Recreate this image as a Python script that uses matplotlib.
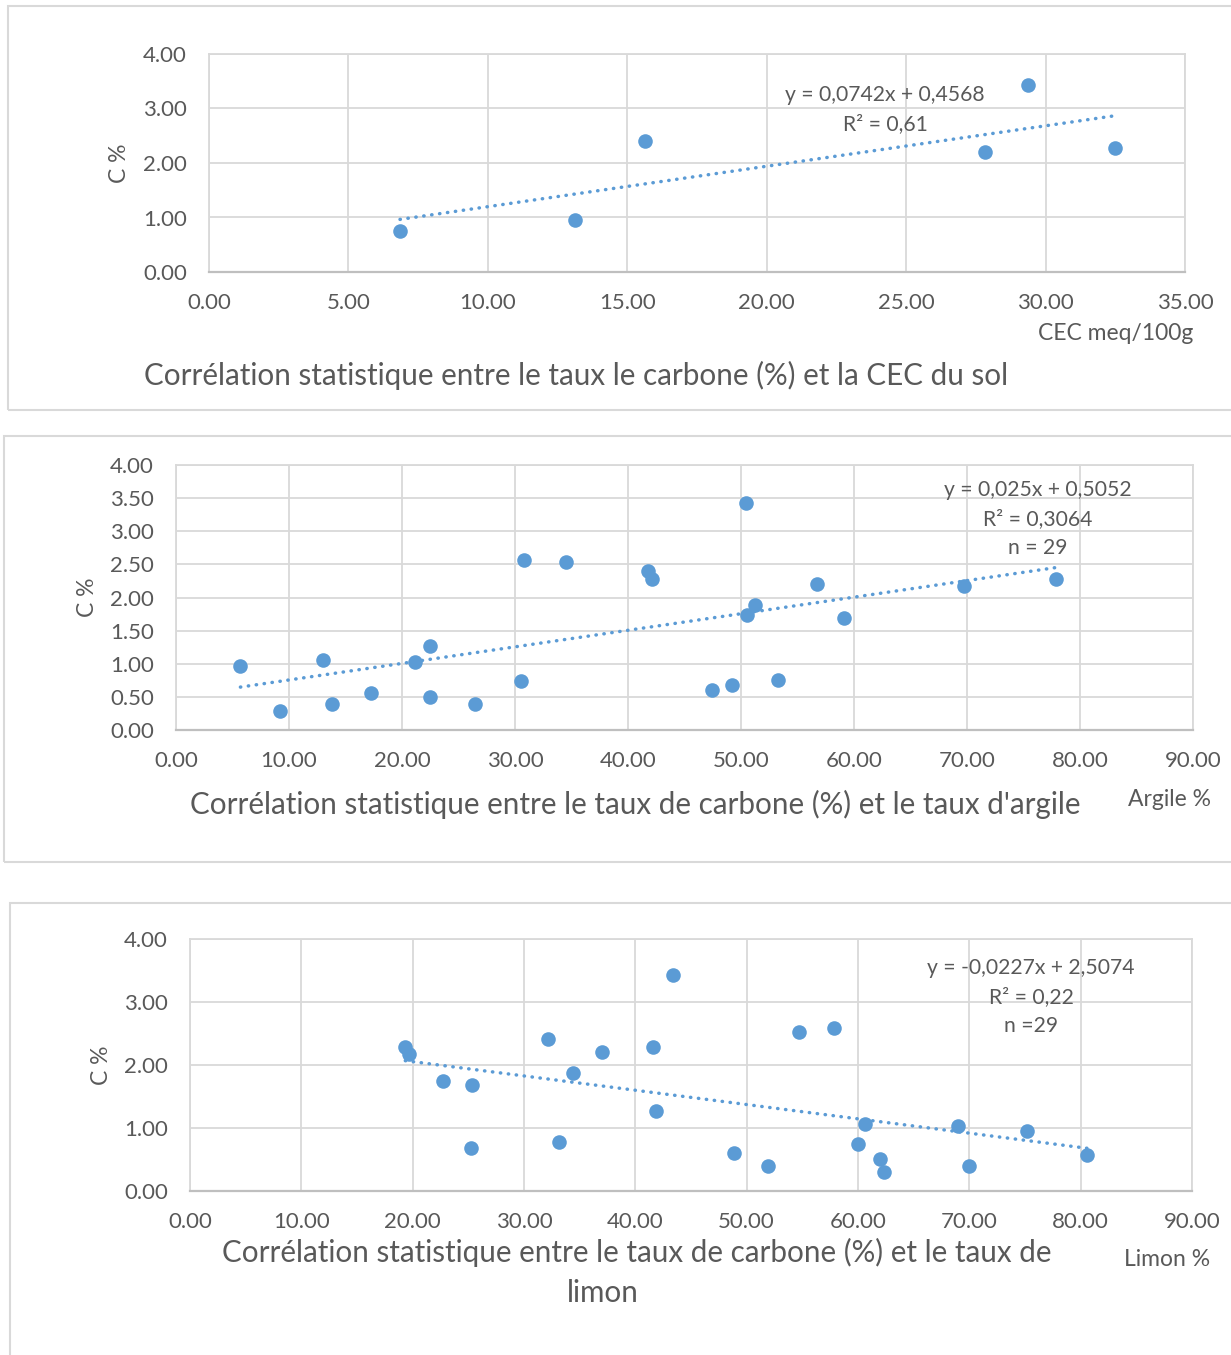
import matplotlib
matplotlib.use("Agg")
import matplotlib.pyplot as plt
from matplotlib.patches import Rectangle
import numpy as np

plt.rcParams['font.family'] = ['Lato', 'DejaVu Sans']

# ---------------- data ----------------
cec_x = [6.85, 13.12, 15.63, 27.83, 29.37, 32.49]
cec_c = [0.75, 0.95, 2.40, 2.20, 3.43, 2.28]
cec_slope, cec_icpt = 0.0742, 0.4568
cec_eq = ["y = 0,0742x + 0,4568", "R² = 0,61"]

arg_x = [5.70, 9.17, 13.03, 13.82, 17.29, 21.12, 22.44, 22.44, 26.50, 30.50,
         30.82, 34.48, 41.79, 42.14, 47.41, 49.24, 50.43, 50.56, 51.23, 53.27,
         56.69, 59.10, 69.73, 77.92]
arg_c = [0.96, 0.29, 1.05, 0.40, 0.56, 1.03, 1.27, 0.50, 0.40, 0.74,
         2.57, 2.53, 2.40, 2.28, 0.60, 0.68, 3.42, 1.74, 1.88, 0.76,
         2.20, 1.69, 2.17, 2.28]
arg_slope, arg_icpt = 0.025, 0.5052
arg_eq = ["y = 0,025x + 0,5052", "R² = 0,3064", "n = 29"]

lim_x = [19.34, 19.69, 22.75, 25.31, 25.22, 32.12, 33.17, 34.39, 36.99, 41.62,
         41.84, 43.41, 48.82, 51.92, 54.74, 57.82, 59.98, 60.64, 61.97, 62.31,
         68.98, 69.97, 75.17, 80.60]
lim_c = [2.29, 2.17, 1.74, 1.69, 0.69, 2.41, 0.77, 1.88, 2.21, 2.29,
         1.27, 3.43, 0.61, 0.40, 2.53, 2.58, 0.75, 1.06, 0.51, 0.30,
         1.03, 0.40, 0.96, 0.57]
lim_slope, lim_icpt = -0.0227, 2.5074
lim_eq = ["y = -0,0227x + 2,5074", "R² = 0,22", "n =29"]

# ---------------- style ----------------
W, H = 1231, 1355
BLUE = "#5B9BD5"
GRID = "#D9D9D9"
TXT = "#595959"
TICK_FS = 16
LAB_FS = 16.5
EQ_FS = 15.2
TITLE_FS = 21.3

fig = plt.figure(figsize=(W / 100, H / 100), dpi=100)


def rect(l, t, r, b):
    return [l / W, 1 - b / H, (r - l) / W, (b - t) / H]


def fx(x):
    return x / W


def fy(y):
    return 1 - y / H


# panel frames
for (l, t, r, b) in [(8, 6, 1236, 410), (4, 436, 1236, 862), (10, 903, 1236, 1370)]:
    fig.patches.append(Rectangle((fx(l), fy(b)), (r - l) / W, (b - t) / H,
                                 transform=fig.transFigure, fill=False,
                                 edgecolor=GRID, linewidth=1.5))


def panel(box, xs, ys, slope, icpt, xmax, xstep, ystep, eq, eq_pos, eq_dy):
    ax = fig.add_axes(rect(*box))
    ax.set_xlim(0, xmax)
    ax.set_ylim(0, 4)
    ax.set_xticks(np.arange(0, xmax + 0.001, xstep))
    ax.set_yticks(np.arange(0, 4.001, ystep))
    ax.xaxis.set_major_formatter(matplotlib.ticker.FormatStrFormatter('%.2f'))
    ax.yaxis.set_major_formatter(matplotlib.ticker.FormatStrFormatter('%.2f'))
    ax.grid(True, color=GRID, linewidth=1.3)
    ax.set_axisbelow(True)
    for s in ax.spines.values():
        s.set_color(GRID)
        s.set_linewidth(1.3)
    ax.spines['bottom'].set_color("#BFBFBF")
    ax.spines['bottom'].set_linewidth(1.6)
    ax.tick_params(length=0, labelsize=TICK_FS, labelcolor=TXT)
    ax.tick_params(axis='y', pad=16)
    ax.tick_params(axis='x', pad=15)
    ax.scatter(xs, ys, s=110, color=BLUE, zorder=3, linewidths=0)
    x0, x1 = min(xs), max(xs)
    tx = np.array([x0, x1])
    ax.plot(tx, slope * tx + icpt, color=BLUE, linewidth=2.5,
            linestyle=(0, (0.1, 2.2)), dash_capstyle='round', zorder=2)
    for i, line in enumerate(eq):
        fig.text(fx(eq_pos[0]), fy(eq_pos[1] + i * eq_dy), line, ha='center',
                 va='center', fontsize=EQ_FS, color=TXT)
    return ax


# Panel 1
panel((209, 54, 1185, 272), cec_x, cec_c, cec_slope, cec_icpt, 35, 5, 1,
      cec_eq, (885, 95), 29)
fig.text(fx(120), fy(163), "C %", rotation=90, ha='center', va='center',
         fontsize=LAB_FS, color=TXT)
fig.text(fx(1116), fy(333), "CEC meq/100g", ha='center', va='center',
         fontsize=LAB_FS, color=TXT)
fig.text(fx(576), fy(375), "Corrélation statistique entre le taux le carbone (%) et la CEC du sol",
         ha='center', va='center', fontsize=TITLE_FS, color=TXT)

# Panel 2
panel((176, 465, 1193, 730), arg_x, arg_c, arg_slope, arg_icpt, 90, 10, 0.5,
      arg_eq, (1038, 490), 29)
fig.text(fx(88), fy(597), "C %", rotation=90, ha='center', va='center',
         fontsize=LAB_FS, color=TXT)
fig.text(fx(1170), fy(799), "Argile %", ha='center', va='center',
         fontsize=LAB_FS, color=TXT)
fig.text(fx(635), fy(804), "Corrélation statistique entre le taux de carbone (%) et le taux d'argile",
         ha='center', va='center', fontsize=TITLE_FS, color=TXT)

# Panel 3
panel((190, 939, 1192, 1191), lim_x, lim_c, lim_slope, lim_icpt, 90, 10, 1,
      lim_eq, (1031, 968), 29)
fig.text(fx(101), fy(1065), "C %", rotation=90, ha='center', va='center',
         fontsize=LAB_FS, color=TXT)
fig.text(fx(1167), fy(1260), "Limon %", ha='center', va='center',
         fontsize=LAB_FS, color=TXT)
fig.text(fx(637), fy(1252), "Corrélation statistique entre le taux de carbone (%) et le taux de",
         ha='center', va='center', fontsize=TITLE_FS, color=TXT)
fig.text(fx(603), fy(1293), "limon", ha='center', va='center',
         fontsize=TITLE_FS, color=TXT)

fig.savefig("out.png", dpi=100)
